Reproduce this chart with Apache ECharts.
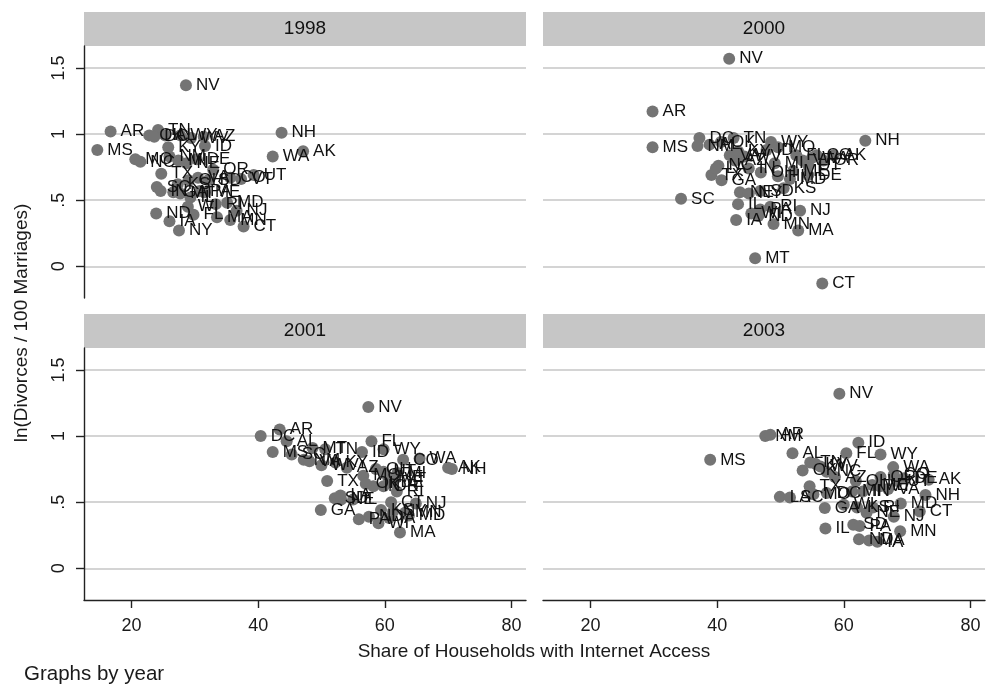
<!DOCTYPE html>
<html>
<head>
  <meta charset="UTF-8">
  <title>Divorces and Internet Access</title>
  <script src="https://cdn.jsdelivr.net/npm/echarts@6/dist/echarts.min.js"></script>
  <style type="text/css">
  html, body { margin: 0; padding: 0; background: #ffffff; }
  #chart { width: 988px; height: 685px; }
  </style>
</head>
<body>
  <div id="chart"></div>

  <script>
    // panel titles and axis ticks
    var years = ['1998', '2000', '2001', '2003'];
    var xTicks = [20, 40, 60, 80];
    var yTicks = [0, 0.5, 1, 1.5];
    var yTickLabels = ['0', '.5', '1', '1.5'];

    // [state, internet share, ln(divorces/100 marriages)]
    var d1998 = [
      ['NV', 28.6, 1.37], ['AR', 16.7, 1.02], ['MS', 14.6, 0.88], ['NH', 43.7, 1.01],
      ['WA', 42.3, 0.83], ['AK', 47.1, 0.87], ['UT', 39.3, 0.69], ['VT', 37.3, 0.66],
      ['CT', 37.7, 0.30], ['NY', 27.5, 0.27], ['ND', 23.9, 0.40], ['IA', 26.0, 0.34],
      ['OK', 22.8, 0.99], ['TN', 24.2, 1.03], ['AL', 25.3, 0.99], ['WY', 27.7, 0.99],
      ['WV', 29.4, 0.97], ['AZ', 31.4, 0.98], ['ID', 31.6, 0.91], ['KY', 25.8, 0.90],
      ['MO', 20.6, 0.81], ['NC', 21.4, 0.79], ['TX', 24.7, 0.70], ['MI', 27.4, 0.80],
      ['NE', 28.7, 0.78], ['DE', 30.3, 0.81], ['OR', 32.9, 0.73], ['CO', 35.6, 0.67],
      ['SD', 32.1, 0.65], ['OH', 29.0, 0.65], ['VA', 30.5, 0.67], ['SC', 24.0, 0.60],
      ['IN', 24.6, 0.57], ['GA', 26.6, 0.56], ['MT', 27.7, 0.55], ['IL', 29.3, 0.52],
      ['ME', 31.6, 0.56], ['KS', 27.3, 0.62], ['WI', 28.9, 0.45], ['FL', 29.8, 0.39],
      ['MA', 33.5, 0.37], ['MN', 35.6, 0.35], ['RI', 33.3, 0.47], ['MD', 35.1, 0.48],
      ['NJ', 36.6, 0.42], ['PA', 30.8, 0.57], ['DC', 23.6, 0.98], ['NM', 26.0, 0.83]
    ];
    var d2000 = [
      ['NV', 41.9, 1.57], ['AR', 29.8, 1.17], ['MS', 29.8, 0.90], ['NH', 63.4, 0.95],
      ['SC', 34.3, 0.51], ['MT', 46.0, 0.06], ['CT', 56.6, -0.13], ['MA', 52.8, 0.27],
      ['NJ', 53.1, 0.42], ['IA', 43.0, 0.35], ['ND', 46.5, 0.38], ['MN', 48.9, 0.32],
      ['IL', 43.3, 0.47], ['RI', 48.4, 0.45], ['PA', 46.8, 0.43], ['WI', 45.4, 0.40],
      ['KS', 50.5, 0.59], ['NE', 43.6, 0.56], ['NY', 45.0, 0.55], ['SD', 46.8, 0.57],
      ['TX', 39.1, 0.69], ['GA', 40.7, 0.65], ['NC', 40.2, 0.76], ['AZ', 42.8, 0.80],
      ['VA', 42.0, 0.84], ['KY', 43.3, 0.87], ['DC', 37.2, 0.97], ['NM', 36.9, 0.91],
      ['AL', 38.8, 0.92], ['TN', 42.6, 0.97], ['OK', 40.6, 0.94], ['OH', 46.9, 0.71],
      ['MI', 49.1, 0.78], ['IN', 45.0, 0.74], ['WY', 48.5, 0.94], ['ID', 47.8, 0.88],
      ['MO', 49.6, 0.90], ['WV', 44.3, 0.83], ['HI', 49.6, 0.68], ['ME', 52.0, 0.72],
      ['DE', 54.4, 0.69], ['CO', 55.7, 0.84], ['OR', 56.8, 0.80], ['AK', 58.4, 0.84],
      ['UT', 54.4, 0.76], ['VT', 53.5, 0.80], ['WA', 55.0, 0.82], ['FL', 52.5, 0.84],
      ['LA', 39.8, 0.74], ['MD', 51.5, 0.66]
    ];
    var d2001 = [
      ['NV', 57.4, 1.22], ['DC', 40.4, 1.00], ['AR', 43.4, 1.05], ['AL', 44.5, 0.96],
      ['MS', 42.3, 0.88], ['SC', 45.3, 0.86], ['NM', 47.2, 0.82], ['MT', 48.6, 0.91],
      ['TN', 50.6, 0.90], ['VA', 48.1, 0.81], ['WV', 50.0, 0.78], ['KY', 52.2, 0.80],
      ['AZ', 54.0, 0.76], ['ID', 56.4, 0.88], ['FL', 57.9, 0.96], ['WY', 59.8, 0.90],
      ['CO', 62.9, 0.82], ['WA', 65.5, 0.83], ['AK', 70.0, 0.76], ['NH', 70.6, 0.75],
      ['TX', 50.9, 0.66], ['MO', 56.6, 0.70], ['OH', 58.6, 0.75], ['UT', 59.8, 0.73],
      ['ME', 60.5, 0.69], ['DE', 60.9, 0.65], ['IN', 58.2, 0.62], ['OR', 59.8, 0.62],
      ['OK', 57.0, 0.64], ['VT', 61.5, 0.67], ['RI', 61.9, 0.58], ['SD', 52.1, 0.53],
      ['NE', 53.1, 0.52], ['GA', 49.9, 0.44], ['IL', 55.0, 0.52], ['KS', 59.4, 0.44],
      ['ND', 57.5, 0.39], ['IA', 60.7, 0.38], ['PA', 55.9, 0.37], ['WI', 59.0, 0.34],
      ['NJ', 64.9, 0.49], ['MD', 63.8, 0.40], ['MN', 63.2, 0.42], ['MA', 62.4, 0.27],
      ['NY', 61.3, 0.43], ['MI', 62.0, 0.72], ['CT', 61.0, 0.50], ['LA', 53.0, 0.55]
    ];
    var d2003 = [
      ['NV', 59.3, 1.32], ['NM', 47.6, 1.00], ['AR', 48.4, 1.01], ['MS', 38.9, 0.82],
      ['ID', 62.3, 0.95], ['AL', 51.9, 0.87], ['FL', 60.4, 0.87], ['WY', 65.8, 0.86],
      ['TN', 54.7, 0.80], ['WV', 56.3, 0.77], ['KY', 55.5, 0.79], ['NC', 57.3, 0.73],
      ['AZ', 58.6, 0.69], ['WA', 67.8, 0.765], ['AK', 73.4, 0.67], ['NH', 72.9, 0.555],
      ['OR', 65.8, 0.69], ['CO', 67.9, 0.71], ['DE', 69.5, 0.68], ['OH', 61.9, 0.66],
      ['TX', 54.6, 0.62], ['LA', 49.9, 0.54], ['SC', 51.5, 0.535], ['MO', 55.2, 0.56],
      ['DC', 57.3, 0.57], ['VT', 65.7, 0.62], ['MI', 61.3, 0.58], ['VA', 67.0, 0.60],
      ['IN', 63.0, 0.58], ['UT', 68.5, 0.66], ['ME', 64.5, 0.63], ['GA', 57.0, 0.455],
      ['KS', 62.1, 0.46], ['RI', 64.6, 0.46], ['NE', 63.6, 0.42], ['MD', 69.0, 0.49],
      ['CT', 72.0, 0.43], ['NJ', 67.9, 0.39], ['IL', 57.1, 0.30], ['SD', 61.5, 0.33],
      ['PA', 62.5, 0.32], ['MN', 68.9, 0.28], ['ND', 62.4, 0.22], ['MA', 64.0, 0.21],
      ['IA', 65.3, 0.20], ['WI', 60.0, 0.48], ['OK', 53.5, 0.74]
    ];
    var panels = [d1998, d2000, d2001, d2003];

    var FONT = 'Liberation Sans, Arial, sans-serif';
    var W = 442, H = 252, HEAD = 34;
    var lefts = [84, 543, 84, 543];
    var tops = [46, 46, 348, 348];

    var chart = echarts.init(document.getElementById('chart'), null, {renderer: 'canvas'});

    var grids = [], xAxes = [], yAxes = [], series = [], graphics = [];
    for (var i = 0; i < 4; i++) {
      var isLeft = (i % 2 == 0), isBottom = (i >= 2);
      grids.push({left: lefts[i], top: tops[i], width: W, height: H, containLabel: false});
      xAxes.push({
        type: 'value', gridIndex: i, min: 12.5, max: 82.3,
        axisLine: {show: isBottom, onZero: false, lineStyle: {color: '#222', width: 1.4}},
        axisTick: {show: isBottom, length: 8, customValues: xTicks, lineStyle: {color: '#222', width: 1.4}},
        axisLabel: {show: isBottom, customValues: xTicks, margin: 17, fontSize: 18, color: '#1a1a1a', fontFamily: FONT},
        splitLine: {show: false}
      });
      yAxes.push({
        type: 'value', gridIndex: i, min: -0.24, max: 1.666,
        axisLine: {show: isLeft, onZero: false, lineStyle: {color: '#222', width: 1.4}},
        axisTick: {show: isLeft, length: 8, customValues: yTicks, lineStyle: {color: '#222', width: 1.4}},
        axisLabel: {
          show: isLeft, customValues: yTicks, rotate: 90, margin: 16, fontSize: 18, color: '#1a1a1a', fontFamily: FONT,
          formatter: function (v) { return yTickLabels[yTicks.indexOf(v)]; }
        },
        splitLine: {show: true, lineStyle: {color: '#c6c6c6', width: 1.6}}
      });
      series.push({
        type: 'scatter', xAxisIndex: i, yAxisIndex: i,
        symbolSize: 12,
        itemStyle: {color: '#747474', opacity: 1},
        data: panels[i].map(function (r) { return [r[1], r[2], r[0]]; }),
        label: {
          show: true, position: 'right', distance: 4, fontSize: 17, color: '#111', fontFamily: FONT,
          formatter: function (p) { return p.value[2]; }
        },
        emphasis: {disabled: true}
      });
      // panel header
      graphics.push({
        type: 'rect', left: lefts[i], top: tops[i] - HEAD,
        shape: {width: W, height: HEAD}, style: {fill: '#c6c6c6'}
      });
      graphics.push({
        type: 'text', x: lefts[i] + W / 2, y: tops[i] - HEAD / 2,
        style: {text: years[i], font: '19px ' + FONT, fill: '#111', textAlign: 'center', textVerticalAlign: 'middle'}
      });
    }

    graphics.push({
      type: 'text', x: 22, y: 323, rotation: Math.PI / 2,
      style: {text: 'ln(Divorces / 100 Marriages)', font: '19px ' + FONT, fill: '#1a1a1a', textAlign: 'center', textVerticalAlign: 'middle'}
    });
    graphics.push({
      type: 'text', x: 534, y: 652,
      style: {text: 'Share of Households with Internet Access', font: '19px ' + FONT, fill: '#1a1a1a', textAlign: 'center', textVerticalAlign: 'middle'}
    });
    graphics.push({
      type: 'text', x: 24, y: 674,
      style: {text: 'Graphs by year', font: '20.5px ' + FONT, fill: '#1a1a1a', textAlign: 'left', textVerticalAlign: 'middle'}
    });

    chart.setOption({
      animation: false,
      backgroundColor: '#ffffff',
      grid: grids,
      xAxis: xAxes,
      yAxis: yAxes,
      series: series,
      graphic: graphics
    });
  </script>
</body>
</html>
